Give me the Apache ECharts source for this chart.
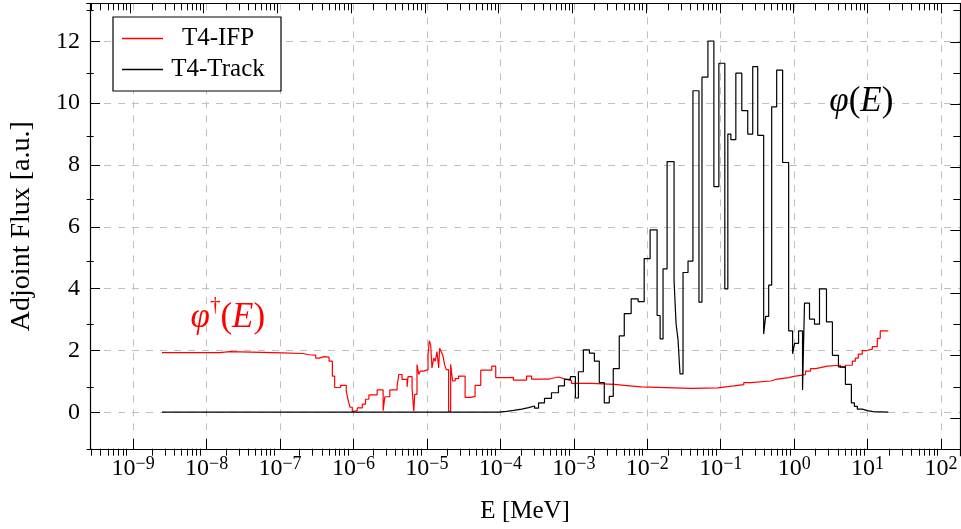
<!DOCTYPE html>
<html>
<head>
<meta charset="utf-8">
<script src="https://cdn.jsdelivr.net/npm/echarts@6/dist/echarts.min.js"></script>
<style>
  html, body { margin: 0; padding: 0; background: #fff; }
  #chart { width: 961px; height: 529px; }
</style>
</head>
<body>
<div id="chart"></div>
<script>
// Bin edges are given as log10(E / MeV); each flux value fills one bin.
const lgEdgesIFP = [
  -8.607, -7.820, -7.684, -6.966, -6.694, -6.603, -6.514, -6.468, -6.400, -6.332,
  -6.287, -6.256, -6.175, -6.098, -6.074, -6.047, -6.016, -5.980, -5.948, -5.880,
  -5.836, -5.790, -5.677, -5.596, -5.573, -5.505, -5.406, -5.383, -5.338, -5.270,
  -5.257, -5.202, -5.179, -5.166, -5.135, -5.111, -5.090, -5.044, -4.985, -4.968,
  -4.949, -4.931, -4.908, -4.886, -4.863, -4.840, -4.827, -4.805, -4.786, -4.759,
  -4.737, -4.705, -4.677, -4.650, -4.615, -4.569, -4.480, -4.398, -4.344, -4.267,
  -4.117, -4.063, -3.891, -3.823, -3.643, -3.575, -3.344, -3.304, -3.209, -3.127,
  -3.032, -2.761, -2.449, -2.313, -2.083, -1.405, -1.038, -0.822, -0.686, -0.591,
  -0.320, -0.252, -0.076, -0.008, 0.114, 0.155, 0.223, 0.291, 0.358, 0.453,
  0.630, 0.698, 0.792, 0.833, 0.874, 0.928, 0.982, 1.064, 1.132, 1.172, 1.281
];
const fluxIFP = [
  1.93, 1.96, 1.92, 1.90, 1.86, 1.85, 1.75, 1.80, 1.78, 1.65,
  1.17, 0.80, 0.87, 0.69, 0.40, 0.16, 0.03, 0.06, 0.14, 0.26,
  0.42, 0.56, 0.72, 0.05, 0.50, 0.72, 0.85, 1.22, 1.06, 0.82,
  1.15, 0.78, 0.03, 0.58, 1.54, 1.22, 1.33, 1.38, 1.86, 2.31,
  2.18, 1.43, 1.75, 1.65, 1.96, 1.43, 2.07, 1.96, 1.86, 1.54,
  1.38, 0.03, 1.55, 1.01, 1.09, 1.17, 0.48, 0.51, 0.87, 1.36,
  1.49, 1.12, 1.13, 1.04, 1.17, 1.07, 1.09, 1.14, 1.08, 1.02,
  0.93, 0.90, 0.87, 0.82, 0.77, 0.79, 0.85, 0.89, 0.96, 1.01,
  1.06, 1.12, 1.16, 1.20, 1.22, 1.33, 1.41, 1.44, 1.49, 1.52,
  1.45, 1.52, 1.65, 1.75, 1.88, 1.99, 2.04, 2.12, 2.39, 2.63
];

const lgEdgesTrack = [
  -8.607, -4.022, -3.914, -3.819, -3.710, -3.615, -3.534, -3.480, -3.399, -3.304,
  -3.209, -3.127, -3.046, -2.978, -2.937, -2.870, -2.788, -2.720, -2.653, -2.585,
  -2.517, -2.463, -2.381, -2.313, -2.219, -2.124, -2.042, -1.961, -1.866, -1.825,
  -1.785, -1.730, -1.635, -1.608, -1.581, -1.554, -1.513, -1.445, -1.378, -1.296,
  -1.255, -1.174, -1.093, -1.025, -0.944, -0.903, -0.862, -0.794, -0.713, -0.632,
  -0.564, -0.496, -0.415, -0.388, -0.347, -0.306, -0.238, -0.157, -0.075, -0.021,
  0.006, 0.060, 0.114, 0.141, 0.209, 0.277, 0.345, 0.440, 0.521, 0.603,
  0.698, 0.779, 0.820, 0.860, 0.928, 0.996, 1.077, 1.281
];
const fluxTrack = [
  0.00, 0.03, 0.06, 0.10, 0.15, 0.20, 0.13, 0.30, 0.45, 0.63,
  0.85, 1.06, 1.15, 0.46, 1.31, 2.02, 1.91, 1.65, 0.96, 0.30,
  0.51, 1.41, 2.47, 3.19, 3.67, 3.58, 4.97, 5.90, 3.13, 2.37,
  4.64, 8.11, 4.25, 2.87, 2.34, 1.24, 4.52, 4.89, 10.40, 3.56,
  10.84, 12.01, 7.30, 11.29, 3.99, 9.00, 8.82, 10.97, 9.76, 9.00,
  11.18, 8.96, 2.53, 3.10, 4.11, 9.88, 11.07, 8.08, 2.63, 1.89,
  2.23, 2.63, 0.72, 3.53, 3.01, 2.85, 3.99, 2.92, 1.84, 1.47,
  0.90, 0.30, 0.19, 0.10, 0.05, 0.02, 0.00
];

const decadeTicks = [-9, -8, -7, -6, -5, -4, -3, -2, -1, 0, 1, 2];
const fluxTicks = [0, 2, 4, 6, 8, 10, 12];
const fluxMinorTicks = [-1, 1, 3, 5, 7, 9, 11, 13];

const X_RANGE = [-9.587, 2.262];
const Y_RANGE = [-1.19, 13.23];
const FONT = 'Liberation Serif';
const GRID_RECT = { left: 86.7, top: 3.3, right: 0.7, bottom: 73.3 };

// histogram outline: horizontal run across each bin, then a vertical jump
function histogram(edges, vals) {
  const pts = vals.map((v, i) => [edges[i], v]);
  pts.push([edges[vals.length], vals[vals.length - 1]]);
  return pts;
}

// logarithmic minor ticks (2..9 x 10^n) within the visible range
const minorDecadeTicks = [];
for (let d = -10; d <= 2; d++) {
  for (let k = 2; k <= 9; k++) {
    const v = d + Math.log10(k);
    if (v > X_RANGE[0] && v < X_RANGE[1]) minorDecadeTicks.push(v);
  }
}

const frame = { show: true, onZero: false, lineStyle: { color: '#000', width: 1.2 } };
const noLine = { show: false, onZero: false };

function axisDef(gridIndex, position, range, ticks, len, extra) {
  return Object.assign({
    type: 'value', gridIndex, position, min: range[0], max: range[1],
    axisLine: noLine,
    axisTick: { show: true, inside: true, length: len, customValues: ticks,
                lineStyle: { color: '#000', width: 1 } },
    axisLabel: { show: false },
    splitLine: { show: false }
  }, extra || {});
}

const gridLine = { show: true, lineStyle: { color: '#c0c0c0', width: 1, type: [7, 7] } };

const option = {
  animation: false,
  backgroundColor: '#fff',
  grid: [0, 1, 2, 3].map(() => Object.assign({ containLabel: false }, GRID_RECT)),
  xAxis: [
    axisDef(0, 'bottom', X_RANGE, decadeTicks, 10, {
      axisLine: frame,
      splitLine: gridLine,
      axisLabel: {
        show: true, customValues: decadeTicks, margin: 6,
        formatter: v => {
          const e = Math.round(v);
          return '{b|10}{s|' + (e < 0 ? '\u2212' + (-e) : e) + '}';
        },
        rich: {
          b: { fontFamily: FONT, fontSize: 24, color: '#000', lineHeight: 26, verticalAlign: 'bottom' },
          s: { fontFamily: FONT, fontSize: 18, color: '#000', lineHeight: 20, verticalAlign: 'top' }
        }
      },
      name: 'E [MeV]', nameLocation: 'middle', nameGap: 50,
      nameTextStyle: { fontFamily: FONT, fontSize: 25, color: '#000' }
    }),
    axisDef(1, 'bottom', X_RANGE, minorDecadeTicks, 7),
    axisDef(2, 'top', X_RANGE, decadeTicks, 10, { axisLine: frame }),
    axisDef(3, 'top', X_RANGE, minorDecadeTicks, 7)
  ],
  yAxis: [
    axisDef(0, 'left', Y_RANGE, fluxTicks, 10, {
      axisLine: frame,
      splitLine: gridLine,
      axisLabel: { show: true, customValues: fluxTicks, margin: 10,
                   fontFamily: FONT, fontSize: 24, color: '#000' },
      name: 'Adjoint Flux [a.u.]', nameLocation: 'middle', nameGap: 54,
      nameTextStyle: { fontFamily: FONT, fontSize: 28, color: '#000' }
    }),
    axisDef(1, 'left', Y_RANGE, fluxMinorTicks, 7),
    axisDef(2, 'right', Y_RANGE, fluxTicks, 10, { axisLine: frame }),
    axisDef(3, 'right', Y_RANGE, fluxMinorTicks, 7)
  ],
  legend: {
    left: 113, top: 17, orient: 'vertical',
    padding: [9, 13, 9, 9], itemGap: 6,
    itemWidth: 41, itemHeight: 1.4, icon: 'rect',
    borderColor: '#000', borderWidth: 1.2, backgroundColor: '#fff',
    data: ['T4-IFP', 'T4-Track'],
    formatter: n => '{t|' + n + '}',
    textStyle: {
      rich: { t: { fontFamily: FONT, fontSize: 25, color: '#000', width: 100, align: 'center', lineHeight: 24 } }
    }
  },
  series: [
    {
      name: 'T4-IFP', type: 'line', xAxisIndex: 0, yAxisIndex: 0,
      step: 'end', showSymbol: false, symbol: 'none', z: 3,
      lineStyle: { color: '#ff0000', width: 1.2 },
      itemStyle: { color: '#ff0000' },
      data: histogram(lgEdgesIFP, fluxIFP),
      markPoint: {
        symbol: 'circle', symbolSize: 0, silent: true,
        label: {
          show: true, position: 'inside',
          formatter: '{i|\u03c6}{d|\u2020}{r|(}{i|E}{r|)}',
          rich: {
            i: { fontFamily: FONT, fontStyle: 'italic', fontSize: 35, color: '#ff0000', verticalAlign: 'bottom', lineHeight: 40 },
            r: { fontFamily: FONT, fontSize: 35, color: '#ff0000', verticalAlign: 'bottom', lineHeight: 40 },
            d: { fontFamily: FONT, fontSize: 21, color: '#ff0000', verticalAlign: 'top', lineHeight: 21 }
          }
        },
        data: [{ coord: [-7.71, 3.13] }]
      }
    },
    {
      name: 'T4-Track', type: 'line', xAxisIndex: 0, yAxisIndex: 0,
      step: 'end', showSymbol: false, symbol: 'none', z: 4,
      lineStyle: { color: '#000', width: 1.2 },
      itemStyle: { color: '#000' },
      data: histogram(lgEdgesTrack, fluxTrack),
      markPoint: {
        symbol: 'circle', symbolSize: 0, silent: true,
        label: {
          show: true, position: 'inside',
          formatter: '{i|\u03c6}{r|(}{i|E}{r|)}',
          rich: {
            i: { fontFamily: FONT, fontStyle: 'italic', fontSize: 35, color: '#000', lineHeight: 40 },
            r: { fontFamily: FONT, fontSize: 35, color: '#000', lineHeight: 40 }
          }
        },
        data: [{ coord: [0.914, 10.05] }]
      }
    }
  ]
};

const chart = echarts.init(document.getElementById('chart'), null, { renderer: 'canvas' });
chart.setOption(option);
</script>
</body>
</html>
